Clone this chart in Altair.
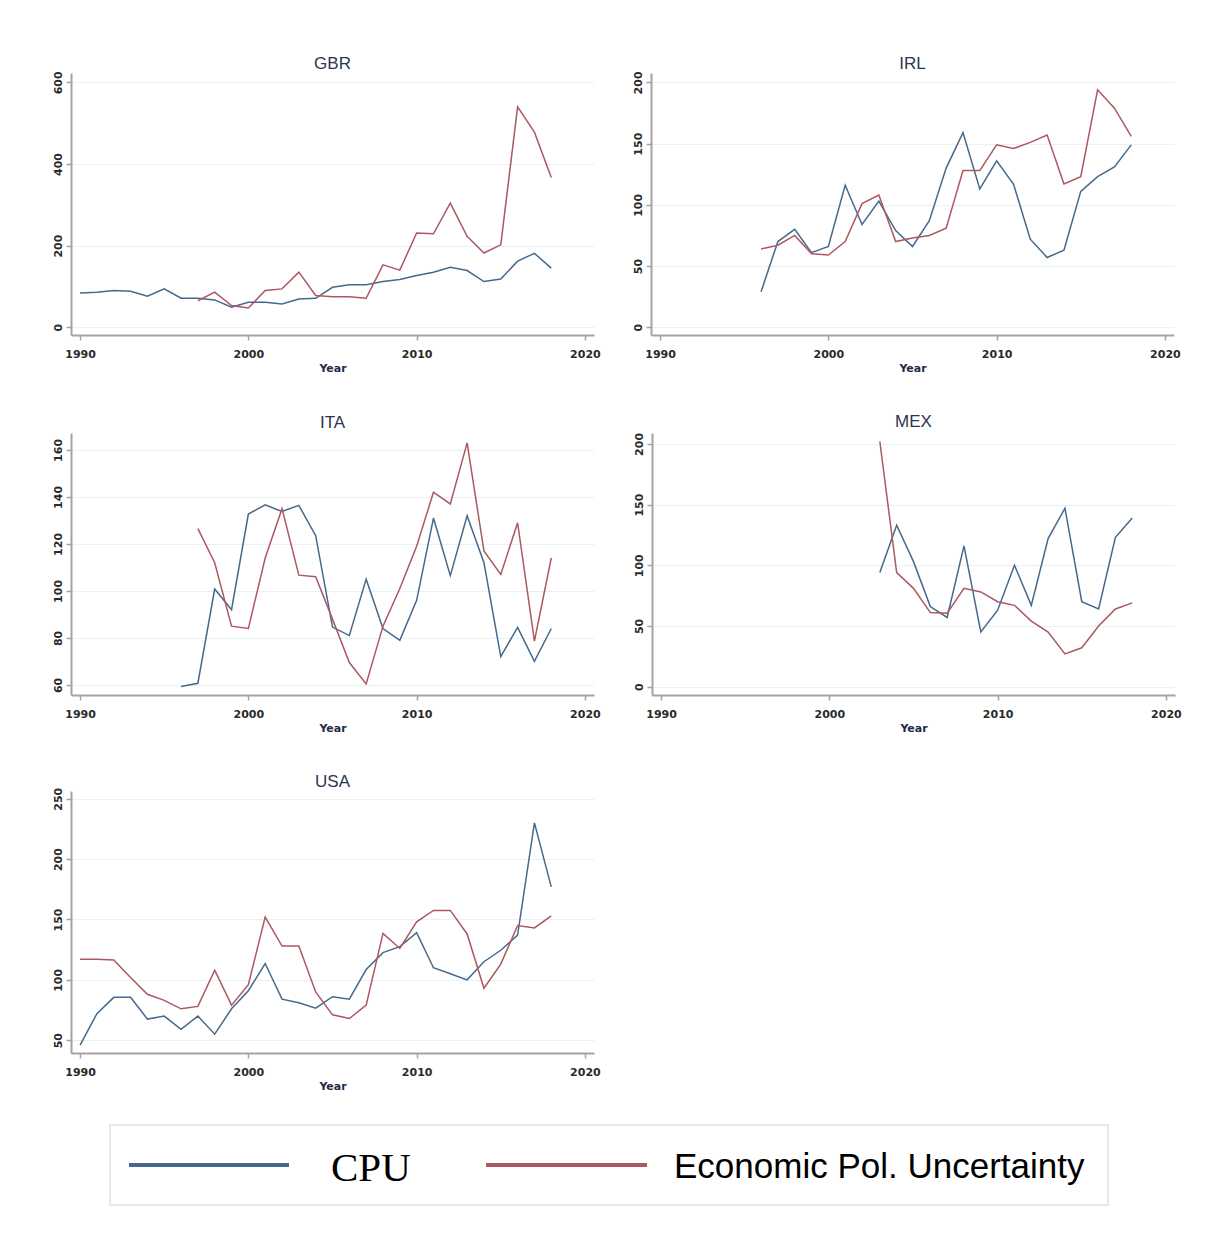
import altair as alt
import pandas as pd

# ---------------- data ----------------
series = ["CPU", "Economic Pol. Uncertainty"]
colors = ["#45698c", "#ad5760"]

cpu_gbr_start = 1990
cpu_gbr = [84, 86, 90, 88, 76, 94, 71, 71, 67, 49, 61, 61, 57, 69, 71, 98, 104, 104,
           112, 117, 127, 135, 147, 139, 112, 118, 162, 181, 145]
epu_gbr_start = 1997
epu_gbr = [65, 86, 53, 47, 90, 94, 135, 78, 75, 75, 71, 153, 140, 231, 229, 304, 223,
           182, 202, 540, 478, 367]

cpu_irl_start = 1996
cpu_irl = [29, 70, 80, 61, 66, 116, 84, 103, 79, 66, 87, 130, 159, 113, 136, 117, 72,
           57, 63, 111, 123, 131, 149]
epu_irl_start = 1996
epu_irl = [64, 67, 75, 60, 59, 70, 101, 108, 70, 73, 75, 81, 128, 128, 149, 146, 151,
           157, 117, 123, 194, 179, 156]

cpu_ita_start = 1996
cpu_ita = [59.3, 60.7, 100.8, 92, 132.7, 136.6, 133.8, 136.4, 123.5, 84.6, 81, 105, 84,
           79, 96, 131, 106.5, 132, 112, 72, 84.5, 70, 84]
epu_ita_start = 1997
epu_ita = [126.5, 112, 85, 84, 114, 135, 106.7, 106, 88, 69.5, 60.4, 85, 101, 119, 142,
           137, 163, 117, 107, 129, 78.6, 114]

cpu_mex_start = 2003
cpu_mex = [94, 133, 103, 66, 57, 116, 45, 63, 100, 67, 122, 147, 70, 64, 123, 139]
epu_mex_start = 2003
epu_mex = [202, 94, 81, 61, 60.5, 81, 78, 70, 67, 54, 45, 27, 32, 50, 64, 69]

cpu_usa_start = 1990
cpu_usa = [46, 72, 85.5, 85.5, 67.5, 70, 59, 70, 55, 76, 91, 113.5, 84, 81, 76.5, 86, 84,
           108.5, 122.5, 127.5, 139, 110, 105, 100, 115, 124.5, 137, 230, 177]
epu_usa_start = 1990
epu_usa = [117, 117, 116.5, 102, 88, 83, 76, 78, 108, 79, 96, 152, 128, 128, 90, 71, 68,
           79, 138.5, 126, 148, 157.5, 157.5, 138, 93, 113, 145, 143, 153]

x_ticks = [1990, 2000, 2010, 2020]
x_domain = [1989.46, 2020.54]

panels = {
    "GBR": dict(cpu=(cpu_gbr_start, cpu_gbr), epu=(epu_gbr_start, epu_gbr),
                ydom=[-19, 623], yticks=[0, 200, 400, 600], toff=-2),
    "IRL": dict(cpu=(cpu_irl_start, cpu_irl), epu=(epu_irl_start, epu_irl),
                ydom=[-6.3, 207.7], yticks=[0, 50, 100, 150, 200], toff=-2),
    "ITA": dict(cpu=(cpu_ita_start, cpu_ita), epu=(epu_ita_start, epu_ita),
                ydom=[55.7, 167.2], yticks=[60, 80, 100, 120, 140, 160], toff=1),
    "MEX": dict(cpu=(cpu_mex_start, cpu_mex), epu=(epu_mex_start, epu_mex),
                ydom=[-6.9, 209], yticks=[0, 50, 100, 150, 200], toff=1),
    "USA": dict(cpu=(cpu_usa_start, cpu_usa), epu=(epu_usa_start, epu_usa),
                ydom=[39.4, 256.4], yticks=[50, 100, 150, 200, 250], toff=-4),
}

rows = []
for code, p in panels.items():
    for name, key in zip(series, ["cpu", "epu"]):
        start, vals = p[key]
        for i, v in enumerate(vals):
            rows.append({"country": code, "series": name, "Year": start + i, "value": v})
df = pd.DataFrame(rows)

PW, PH = 523, 262

color_scale = alt.Scale(domain=series, range=colors)


def panel(code):
    p = panels[code]
    d = df[df.country == code]
    return alt.Chart(d).mark_line(strokeWidth=1.5).encode(
        x=alt.X("Year:Q",
                scale=alt.Scale(domain=x_domain, nice=False, zero=False),
                axis=alt.Axis(values=x_ticks, format="d", title="Year", grid=False,
                              labelPadding=8, titlePadding=3)),
        y=alt.Y("value:Q",
                scale=alt.Scale(domain=p["ydom"], nice=False, zero=False),
                axis=alt.Axis(values=p["yticks"], title=None, grid=True,
                              labelAngle=270, labelAlign="center",
                              labelBaseline="bottom", labelPadding=3)),
        color=alt.Color("series:N", scale=color_scale, legend=None),
    ).properties(width=PW, height=PH, title=alt.TitleParams(code, offset=p["toff"]))


row1 = alt.hconcat(panel("GBR"), panel("IRL"), spacing=31)
row2 = alt.hconcat(panel("ITA"), panel("MEX"), spacing=31)
row3 = panel("USA")
grid = alt.vconcat(row1, row2, row3, spacing=40)

# ---------------- custom legend ----------------
leg_df = pd.DataFrame({"series": series, "color": colors})
LW, LH = 1103, 80
base_leg = alt.Chart(leg_df)
box = base_leg.transform_filter(alt.datum.series == series[0]).mark_rect(
    fill="white", stroke="#e2eaec", strokeWidth=2
).encode(x=alt.value(39), x2=alt.value(1037), y=alt.value(0), y2=alt.value(LH))
sym_cpu = base_leg.transform_filter(alt.datum.series == series[0]).mark_rule(
    strokeWidth=4).encode(x=alt.value(58), x2=alt.value(218), y=alt.value(40),
                          color=alt.Color("series:N", scale=color_scale, legend=None))
sym_epu = base_leg.transform_filter(alt.datum.series == series[1]).mark_rule(
    strokeWidth=4).encode(x=alt.value(415), x2=alt.value(576), y=alt.value(40),
                          color=alt.Color("series:N", scale=color_scale, legend=None))
txt_cpu = base_leg.transform_filter(alt.datum.series == series[0]).mark_text(
    font="Liberation Serif", fontSize=41, align="left", baseline="middle",
    color="black").encode(x=alt.value(260), y=alt.value(44), text="series:N")
txt_epu = base_leg.transform_filter(alt.datum.series == series[1]).mark_text(
    font="Liberation Sans", fontSize=35, align="left", baseline="middle",
    color="black").encode(x=alt.value(603), y=alt.value(42), text="series:N")
legend = alt.layer(box, sym_cpu, sym_epu, txt_cpu, txt_epu).properties(width=LW, height=LH)

chart = alt.vconcat(grid, legend, spacing=33).properties(
    padding={"left": 43, "top": 46, "right": 5, "bottom": 5},
    background="white",
).configure_view(stroke=None).configure_axis(
    domainColor="#a4a4a4", domainWidth=2,
    tickColor="#a4a4a4", tickSize=5, tickWidth=1.5,
    labelFont="DejaVu Sans", labelFontSize=11, labelFontWeight="bold",
    labelColor="#2a2a2a",
    titleFont="DejaVu Sans", titleFontSize=11, titleColor="#1f2b45",
    titleFontWeight="bold",
    gridColor="#e9f2f2", gridWidth=1,
).configure_title(
    font="Liberation Sans", fontSize=17, color="#2b3550", fontWeight="normal",
    anchor="middle",
)

chart.save("out.html", embed_options={"renderer": "svg", "actions": False})
